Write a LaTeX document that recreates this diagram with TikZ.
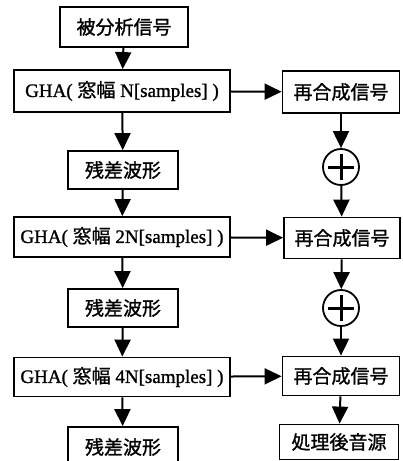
\documentclass[tikz,border=0pt]{standalone}
\usepackage{fontspec}
\setmainfont{Liberation Serif}[FakeBold=1.2]
\newfontfamily\cjk{Noto Sans CJK JP}[FakeBold=1.2]
\usetikzlibrary{arrows.meta}
\tikzset{
  box/.style={draw, line width=1.8pt, inner sep=0pt, minimum height=40pt,
    font=\fontsize{19}{19}\selectfont},
  flow/.style={line width=2pt, -{Triangle[width=16pt,length=17pt]}},
  sumnode/.style={draw, circle, line width=1.8pt, minimum size=36pt, inner sep=0pt}
}
\begin{document}
\begin{tikzpicture}[x=1pt,y=-1pt]
  \useasboundingbox (0,0) rectangle (403,461);
  \clip (0,0) rectangle (403,461);
  % left column
  \node[box, minimum width=128pt] (src) at (124,27) {\cjk 被分析信号};
  \node[box, minimum width=216pt, minimum height=42pt] (gha1) at (122,91) {GHA( {\cjk 窓幅} N[samples] )};
  \node[box, minimum width=110pt, minimum height=38pt] (res1) at (123,170) {\cjk 残差波形};
  \node[box, minimum width=216pt] (gha2) at (122,237) {GHA( {\cjk 窓幅} 2N[samples] )};
  \node[box, minimum width=110pt, minimum height=38pt] (res2) at (123,308) {\cjk 残差波形};
  \node[box, minimum width=216pt, minimum height=39pt] (gha3) at (122,377) {GHA( {\cjk 窓幅} 4N[samples] )};
  \node[box, minimum width=110pt] (res3) at (123,447) {\cjk 残差波形};
  % right column
  \node[box, minimum width=117pt, minimum height=42pt] (syn1) at (341,92) {\cjk 再合成信号};
  \node[sumnode] (add1) at (341,167) {};
  \node[box, minimum width=116pt, minimum height=41pt] (syn2) at (342,238) {\cjk 再合成信号};
  \node[sumnode] (add2) at (341,308) {};
  \node[box, minimum width=117pt, minimum height=39pt] (syn3) at (341,376) {\cjk 再合成信号};
  \node[box, minimum width=119pt, minimum height=35pt] (out) at (339,442) {\cjk 処理後音源};
  % plus signs
  \foreach \s in {add1,add2} {
    \draw[line width=3pt] ([xshift=-13pt]\s.center) -- ([xshift=13pt]\s.center);
    \draw[line width=3pt] ([yshift=-13pt]\s.center) -- ([yshift=13pt]\s.center);
  }
  % arrows
  \draw[flow] (src) -- (gha1);
  \draw[flow] (gha1) -- (res1);
  \draw[flow] (res1) -- (gha2);
  \draw[flow] (gha2) -- (res2);
  \draw[flow] (res2) -- (gha3);
  \draw[flow] (gha3) -- (res3);
  \draw[flow] (gha1) -- (syn1);
  \draw[flow] (gha2) -- (syn2);
  \draw[flow] (gha3) -- (syn3);
  \draw[flow] (syn1) -- (add1);
  \draw[flow] (add1) -- (syn2);
  \draw[flow] (syn2) -- (add2);
  \draw[flow] (add2) -- (syn3);
  \draw[flow] (syn3) -- (out);
\end{tikzpicture}
\end{document}
